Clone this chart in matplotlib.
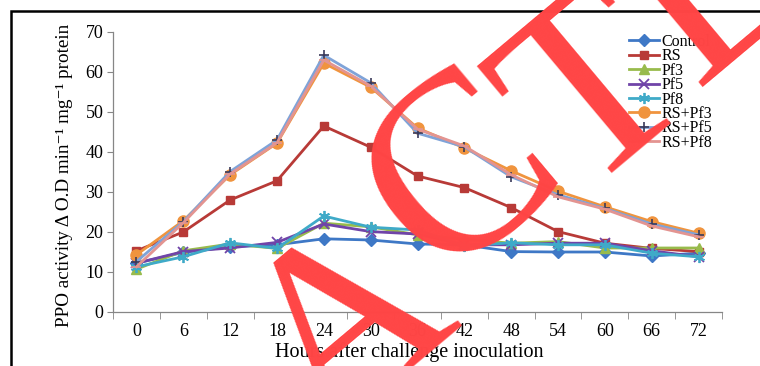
import numpy as np
import matplotlib
matplotlib.use("Agg")
import matplotlib.pyplot as plt
from matplotlib.patches import Rectangle

plt.rcParams['font.family'] = ['Liberation Serif', 'DejaVu Serif']

# hours after challenge inoculation
hours = ['0', '6', '12', '18', '24', '30', '36', '42', '48', '54', '60', '66', '72']

# PPO activity per treatment
control = [12.2, 14.9, 16.3, 16.8, 18.3, 18.0, 17.0, 16.8, 15.1, 15.0, 15.0, 14.0, 14.7]
rs = [15.3, 20.0, 28.0, 32.8, 46.5, 41.2, 34.0, 31.1, 26.1, 20.1, 17.2, 15.9, 15.1]
pf3 = [10.7, 15.3, 17.0, 15.9, 22.2, 21.3, 19.3, 18.2, 17.2, 17.6, 16.0, 16.0, 16.0]
pf5 = [12.2, 15.1, 16.0, 17.4, 22.0, 20.1, 19.5, 16.8, 16.8, 17.2, 17.2, 15.3, 13.8]
pf8 = [11.3, 13.8, 17.3, 15.9, 24.0, 21.2, 20.5, 16.5, 17.3, 16.8, 16.8, 14.7, 13.8]
rs_pf3 = [14.3, 22.8, 34.3, 42.2, 62.2, 56.2, 46.0, 41.0, 35.3, 30.2, 26.3, 22.6, 19.7]
rs_pf5 = [12.6, 22.6, 35.1, 43.0, 64.2, 57.3, 44.7, 41.3, 33.8, 29.3, 25.9, 22.0, 19.3]
rs_pf8 = [11.3, 22.3, 34.5, 42.3, 63.0, 56.5, 45.7, 41.5, 34.3, 28.8, 25.7, 21.5, 18.8]

fig = plt.figure(figsize=(7.6, 3.66), dpi=100)
ax = fig.add_axes([113 / 760, 1 - 312 / 366, (722 - 113) / 760, (312 - 32) / 366])

x = np.arange(len(hours))
lw = 2.0
ax.plot(x, control, color='#3E78C6', marker='D', ms=6, lw=lw, label='Control')
ax.plot(x, rs, color='#B83A37', marker='s', ms=6, lw=lw, label='RS')
ax.plot(x, pf3, color='#98BB4C', marker='^', ms=7, lw=lw, label='Pf3')
ax.plot(x, pf5, color='#7044A8', marker='x', ms=7, mew=1.3, lw=lw, label='Pf5')
ax.plot(x, pf8, color='#3FAAC8', marker=(6, 2, 0), ms=8, mew=1.3, lw=lw, label='Pf8')
ax.plot(x, rs_pf3, color='#F0943E', marker='o', ms=8, lw=lw, label='RS+Pf3')
ax.plot(x, rs_pf5, color='#7FA3D8', marker='+', ms=7, mew=1.2, mec='#3A3A5A', lw=lw, label='RS+Pf5')
ax.plot(x, rs_pf8, color='#E39491', marker='_', ms=7, mew=1.2, lw=lw, label='RS+Pf8')

ax.set_xlim(-0.5, len(hours) - 0.5)
ax.set_ylim(0, 70)
ax.set_yticks(range(0, 71, 10))
ax.set_xticks(x)
ax.set_xticklabels(hours)
ax.set_xticks(np.arange(-0.5, len(hours), 1), minor=True)
ax.tick_params(axis='x', which='major', length=0, pad=8, labelsize=13)
ax.tick_params(axis='x', which='minor', length=5, color='#868686')
ax.tick_params(axis='y', length=4, color='#868686', labelsize=13, pad=3)
for side in ['top', 'right']:
    ax.spines[side].set_visible(False)
for side in ['left', 'bottom']:
    ax.spines[side].set_color('#868686')
    ax.spines[side].set_linewidth(0.9)

ax.set_ylabel('PPO activity Δ O.D min\u207b\u00b9 mg\u207b\u00b9 protein', fontsize=13.8)
ax.yaxis.set_label_coords(-0.066, 0.4875)
ax.set_xlabel('Hours after challenge inoculation', fontsize=14.5)
ax.xaxis.set_label_coords(0.486, -0.108)

ax.legend(loc='upper left', bbox_to_anchor=(629 / 760, 1 - 34 / 366), bbox_transform=fig.transFigure,
          frameon=False, fontsize=11.5, labelspacing=-0.1, handlelength=1.9, handletextpad=0.15,
          borderpad=0, borderaxespad=0)

# outer frame
fig.patches.append(Rectangle((11 / 760, -0.1), 1.0, 1 - 11 / 366 + 0.1, transform=fig.transFigure,
                             fill=False, ec='black', lw=1.8))

# watermark letters along the diagonal
for ch, px, py in [('R', 240, 468), ('A', 353, 335), ('C', 466, 180), ('T', 600, 97), ('E', 716, -10)]:
    fig.text(px / 760, 1 - py / 366, ch, rotation=40, fontsize=184, color='#FF4545',
             ha='center', va='center', rotation_mode='anchor', zorder=20)

fig.savefig('out.png', dpi=100)
